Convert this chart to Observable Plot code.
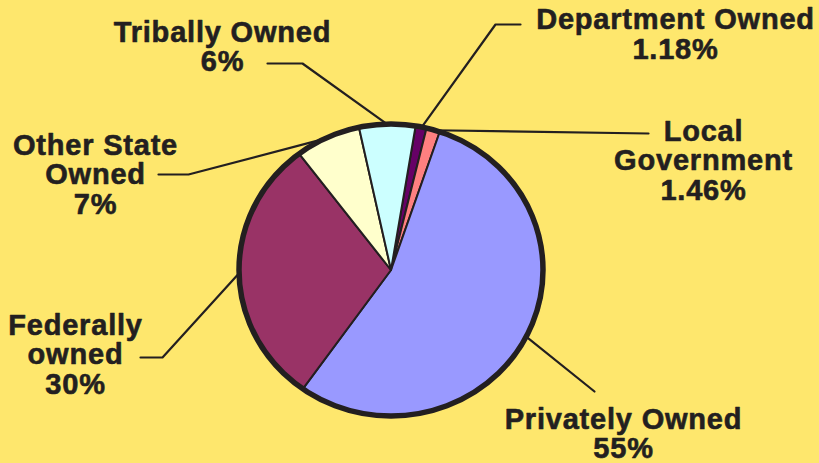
<!DOCTYPE html>
<html><head><meta charset="utf-8">
<script src="https://cdn.jsdelivr.net/npm/d3@7"></script>
<script src="https://cdn.jsdelivr.net/npm/@observablehq/plot@0.6"></script>
<style>html,body{margin:0;padding:0;background:#fee76d;}</style>
</head><body><div id="chart"></div>
<script>
// ---- data ----
const categories = ["Department Owned", "Local Government", "Privately Owned", "Federally owned", "Other State Owned", "Tribally Owned"];
const values = [1.18, 1.46, 55, 30, 7, 6];
const labelLines = ["Department Owned", "Local\nGovernment", "Privately Owned", "Federally\nowned", "Other State\nOwned", "Tribally Owned"];
const colors = ["#660066", "#ff8080", "#9999ff", "#993366", "#ffffcc", "#ccffff"];

// ---- layout ----
const pieCenter = [391, 270];
const pieRadius = [152, 146];
const startDeg = 9.3;
const labelX = [675, 703, 623, 75, 95, 222];
const labelBaseline = [28.5, 140, 428, 334, 154, 40.7];
const elbows = [
  [[520, 24], [495, 24]],
  [[648, 133]],
  [[594, 391]],
  [[140, 357], [162, 357]],
  [[158, 174], [188, 174]],
  [[267, 63], [302, 63]]
];
const fontSize = 29;
const ink = "#231f20";

const data = categories.map((c, i) => ({category: c, value: values[i], color: colors[i],
  label: `${labelLines[i]}\n${values[i]}%`, x: labelX[i], y: labelBaseline[i] - 0.71 * fontSize}));
const a0 = startDeg * Math.PI / 180;
const arcs = d3.pie().sort(null).value(d => d.value).startAngle(a0).endAngle(a0 + 2 * Math.PI)(data);
const anchors = arcs.map(a => {
  const m = (a.startAngle + a.endAngle) / 2;
  return [pieCenter[0] + pieRadius[0] * Math.sin(m), pieCenter[1] - pieRadius[1] * Math.cos(m)];
});
const leaderPts = [];
arcs.forEach((a, i) => {
  elbows[i].forEach(p => leaderPts.push({i, x: p[0], y: p[1]}));
  leaderPts.push({i, x: anchors[i][0], y: anchors[i][1]});
});

function pieMark(index, scales) {
  const ns = "http://www.w3.org/2000/svg";
  const g = document.createElementNS(ns, "g");
  const cx = scales.x(pieCenter[0]), cy = scales.y(pieCenter[1]);
  const sx = scales.x(pieCenter[0] + pieRadius[0]) - cx;
  const sy = scales.y(pieCenter[1] + pieRadius[1]) - cy;
  g.setAttribute("transform", `translate(${cx},${cy}) scale(${sx},${sy})`);
  const arc = d3.arc().innerRadius(0).outerRadius(1);
  for (const a of arcs) {
    const p = document.createElementNS(ns, "path");
    p.setAttribute("d", arc(a));
    p.setAttribute("fill", a.data.color);
    p.setAttribute("stroke", ink);
    p.setAttribute("stroke-width", 2);
    p.setAttribute("stroke-linejoin", "round");
    p.setAttribute("vector-effect", "non-scaling-stroke");
    g.appendChild(p);
  }
  const c = document.createElementNS(ns, "circle");
  c.setAttribute("r", 1);
  c.setAttribute("fill", "none");
  c.setAttribute("stroke", ink);
  c.setAttribute("stroke-width", 5.5);
  c.setAttribute("vector-effect", "non-scaling-stroke");
  g.appendChild(c);
  return g;
}

const chart = Plot.plot({
  width: 819, height: 463,
  margin: 0,
  x: {domain: [0, 819], range: [0, 819], axis: null},
  y: {domain: [0, 463], range: [0, 463], axis: null},
  style: {background: "#fee76d", fontFamily: "Liberation Sans, Arial, sans-serif", letterSpacing: "0.8px"},
  marks: [
    Plot.line(leaderPts, {x: "x", y: "y", z: "i", stroke: ink, strokeWidth: 2.2, curve: "linear"}),
    pieMark,
    Plot.text(data, {x: "x", y: "y", text: "label", textAnchor: "middle", lineAnchor: "top",
      lineHeight: 1.02, fontSize: fontSize, fontWeight: "bold", fill: ink, stroke: ink, strokeWidth: 0.6})
  ]
});
document.getElementById("chart").appendChild(chart);
</script>
</body></html>
